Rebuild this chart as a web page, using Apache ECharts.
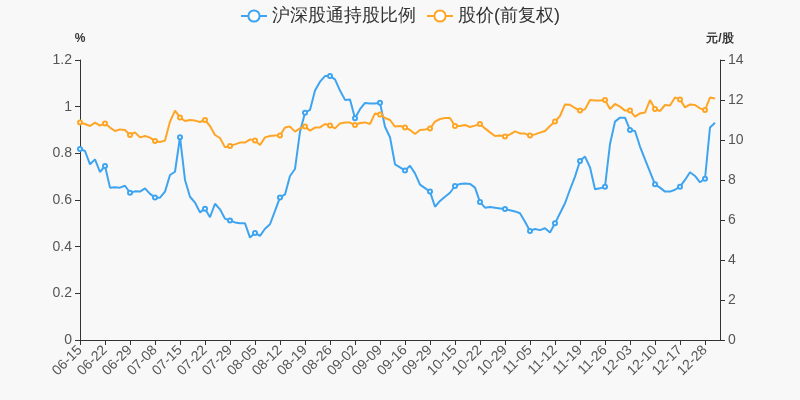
<!DOCTYPE html>
<html>
<head>
<meta charset="utf-8">
<script src="https://cdn.jsdelivr.net/npm/echarts@6/dist/echarts.min.js"></script>
<style>
html,body{margin:0;padding:0;background:#f8f8f8;}
#c{width:800px;height:400px;}
</style>
</head>
<body>
<div id="c"></div>
<script>
var dates = ['06-15','06-16','06-17','06-18','06-21','06-22','06-23','06-24','06-25','06-28',
'06-29','06-30','07-05','07-06','07-07','07-08','07-09','07-12','07-13','07-14',
'07-15','07-16','07-19','07-20','07-21','07-22','07-23','07-26','07-27','07-28',
'07-29','07-30','08-02','08-03','08-04','08-05','08-06','08-09','08-10','08-11',
'08-12','08-13','08-16','08-17','08-18','08-19','08-20','08-23','08-24','08-25',
'08-26','08-27','08-30','08-31','09-01','09-02','09-03','09-06','09-07','09-08',
'09-09','09-10','09-13','09-14','09-15','09-16','09-17','09-22','09-23','09-24',
'09-29','09-30','10-11','10-12','10-13','10-15','10-18','10-19','10-20','10-21',
'10-22','10-25','10-26','10-27','10-28','10-29','11-01','11-02','11-03','11-04',
'11-05','11-08','11-09','11-10','11-11','11-12','11-15','11-16','11-17','11-18',
'11-19','11-22','11-23','11-24','11-25','11-26','11-29','11-30','12-01','12-02',
'12-03','12-06','12-07','12-08','12-09','12-10','12-13','12-14','12-15','12-16',
'12-17','12-20','12-21','12-23','12-24','12-28','12-29','12-30','12-31'];

var holdRatio = [0.819,0.81,0.753,0.774,0.72,0.746,0.653,0.655,0.653,0.661,
0.631,0.637,0.636,0.65,0.626,0.611,0.61,0.636,0.707,0.721,
0.869,0.686,0.614,0.589,0.547,0.563,0.526,0.584,0.56,0.52,
0.512,0.504,0.5,0.5,0.439,0.459,0.446,0.477,0.496,0.553,
0.611,0.624,0.703,0.733,0.893,0.974,0.986,1.069,1.107,1.131,
1.131,1.117,1.069,1.029,1.031,0.95,0.989,1.016,1.014,1.014,
1.017,0.914,0.869,0.753,0.74,0.726,0.747,0.714,0.666,0.651,
0.636,0.571,0.596,0.614,0.631,0.66,0.669,0.671,0.669,0.653,
0.591,0.567,0.57,0.567,0.564,0.561,0.556,0.551,0.543,0.507,
0.467,0.476,0.471,0.479,0.461,0.5,0.543,0.586,0.645,0.7,
0.767,0.786,0.74,0.646,0.65,0.657,0.84,0.936,0.953,0.953,
0.9,0.896,0.829,0.774,0.721,0.667,0.653,0.636,0.636,0.644,
0.657,0.686,0.719,0.703,0.676,0.691,0.911,0.931];

var price = [10.87,10.8,10.7,10.87,10.72,10.83,10.62,10.45,10.53,10.5,
10.25,10.38,10.13,10.2,10.12,9.95,9.9,9.97,10.92,11.47,
11.13,10.95,11.0,10.97,10.9,11.0,10.7,10.25,10.1,9.63,
9.7,9.78,9.87,9.87,10.03,9.97,9.75,10.13,10.2,10.23,
10.22,10.63,10.67,10.42,10.58,10.67,10.47,10.62,10.63,10.8,
10.72,10.58,10.83,10.87,10.87,10.75,10.85,10.88,10.8,11.33,
11.28,11.1,11.0,10.67,10.7,10.63,10.5,10.3,10.5,10.53,
10.57,10.92,11.05,11.1,11.1,10.7,10.7,10.75,10.65,10.72,
10.8,10.58,10.38,10.2,10.22,10.17,10.28,10.43,10.33,10.32,
10.22,10.28,10.37,10.45,10.7,10.92,11.2,11.78,11.76,11.6,
11.47,11.53,12.0,11.97,11.97,12.0,11.55,11.8,11.67,11.47,
11.47,11.17,11.33,11.37,12.0,11.55,11.45,11.75,11.72,12.13,
12.03,11.63,11.78,11.75,11.58,11.5,12.12,12.07];

var leftTicks = {min:0, max:1.2, interval:0.2};
var rightTicks = {min:0, max:14, interval:2};

var chart = echarts.init(document.getElementById('c'));
var axisLine = {show:true, lineStyle:{color:'#333'}};
chart.setOption({
  backgroundColor:'#f8f8f8',
  animation:false,
  color:['#3fa4f0','#ffa526'],
  legend:{top:2, left:'center', itemGap:10, itemWidth:26, textStyle:{fontSize:18, color:'#333'},
    data:['沪深股通持股比例','股价(前复权)']},
  grid:{left:80, right:80, top:60, bottom:60},
  xAxis:{type:'category', boundaryGap:false, data:dates,
    axisLine:axisLine, axisTick:{show:true, interval:4, lineStyle:{color:'#333'}},
    axisLabel:{interval:4, rotate:45, color:'#555', fontSize:14}},
  yAxis:[
    {type:'value', name:'%', min:leftTicks.min, max:leftTicks.max, interval:leftTicks.interval,
     nameTextStyle:{color:'#333', fontWeight:'bold', fontSize:12},
     axisLine:axisLine, axisTick:{show:true}, splitLine:{show:false},
     axisLabel:{color:'#555', fontSize:14}},
    {type:'value', name:'元/股', min:rightTicks.min, max:rightTicks.max, interval:rightTicks.interval,
     nameTextStyle:{color:'#333', fontWeight:'bold', fontSize:12},
     axisLine:axisLine, axisTick:{show:true}, splitLine:{show:false},
     axisLabel:{color:'#555', fontSize:14}}
  ],
  series:[
    {name:'沪深股通持股比例', type:'line', yAxisIndex:0, data:holdRatio,
     symbol:'emptyCircle', symbolSize:4, lineStyle:{width:2}},
    {name:'股价(前复权)', type:'line', yAxisIndex:1, data:price,
     symbol:'emptyCircle', symbolSize:4, lineStyle:{width:2}}
  ]
});
</script>
</body>
</html>
